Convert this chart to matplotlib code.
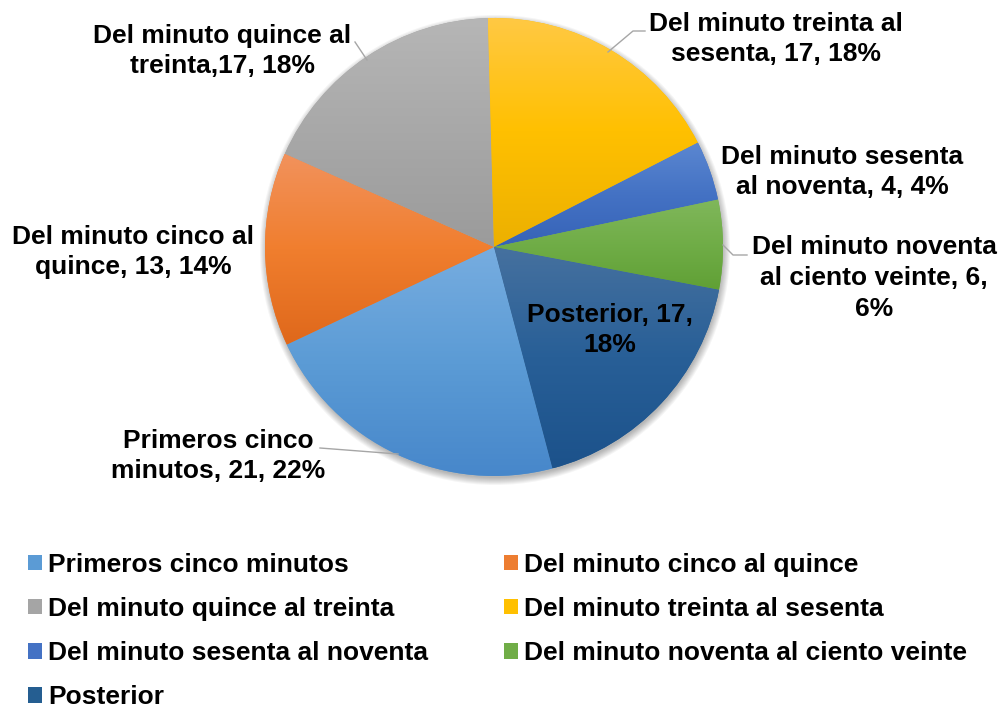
"""Pie chart: minute of the event, with Excel-style gradient slices."""

import matplotlib.pyplot as plt
import numpy as np
from matplotlib.colors import LinearSegmentedColormap
from matplotlib.patches import Circle, Patch

plt.rcParams["font.family"] = ["Liberation Sans", "DejaVu Sans"]
plt.rcParams["font.weight"] = "bold"

# data
categories = [
    "Primeros cinco minutos",
    "Del minuto cinco al quince",
    "Del minuto quince al treinta",
    "Del minuto treinta al sesenta",
    "Del minuto sesenta al noventa",
    "Del minuto noventa al ciento veinte",
    "Posterior",
]
counts = [21, 13, 17, 17, 4, 6, 17]
percents = ["22%", "14%", "18%", "18%", "4%", "6%", "18%"]
slice_labels = [
    "Primeros cinco\nminutos, 21, 22%",
    "Del minuto cinco al\nquince, 13, 14%",
    "Del minuto quince al\ntreinta,17, 18%",
    "Del minuto treinta al\nsesenta, 17, 18%",
    "Del minuto sesenta\nal noventa, 4, 4%",
    "Del minuto noventa\nal ciento veinte, 6,\n6%",
    "Posterior, 17,\n18%",
]

# (top, middle, bottom) gradient stops per slice
base_colors = ["#5B9BD5", "#ED7D31", "#A5A5A5", "#FFC000", "#4472C4", "#70AD47", "#255E91"]
gradients = [
    ("#77ADE0", "#5B9BD5", "#4686CA"),
    ("#F2925C", "#F07E2E", "#DF681B"),
    ("#B6B6B6", "#A8A8A8", "#9B9B9B"),
    ("#FFC945", "#FFC000", "#ECB000"),
    ("#5B87D1", "#4472C4", "#3663B7"),
    ("#80B75B", "#70AD47", "#60A035"),
    ("#46719F", "#285F97", "#1C528B"),
]

W, H = 1001, 712
FS = 19


def py(y):
    """Pixel row (from top) to data y."""
    return H - y


fig = plt.figure(figsize=(W / 100, H / 100), dpi=100)
ax = fig.add_axes([0, 0, 1, 1])

cx, cy, r = 494, py(247), 229

# soft drop shadow
for k in range(8):
    ax.add_patch(Circle((cx + 1, cy - 3), r + 6 - k, color="black", alpha=0.04, lw=0, zorder=1))

wedges, _ = ax.pie(
    counts,
    colors=base_colors,
    startangle=-75.2,
    counterclock=False,
    center=(cx, cy),
    radius=r,
    wedgeprops=dict(linewidth=0, zorder=2),
)

for w, stops in zip(wedges, gradients):
    verts = w.get_path().vertices
    x0, x1 = verts[:, 0].min(), verts[:, 0].max()
    y0, y1 = verts[:, 1].min(), verts[:, 1].max()
    cmap = LinearSegmentedColormap.from_list("g", list(stops))
    grad = np.linspace(0, 1, 256).reshape(-1, 1)
    im = ax.imshow(grad, cmap=cmap, extent=[x0, x1, y0, y1], origin="upper",
                   aspect="auto", interpolation="bilinear", zorder=3)
    im.set_clip_path(w)

# slice labels (centre positions in pixels)
label_pos = [(218, 456), (133, 252), (222, 51), (776, 39), (842, 172), (874, 278), (610, 330)]
for text, (lx, ly) in zip(slice_labels, label_pos):
    ax.text(lx, py(ly), text, ha="center", va="center", multialignment="center",
            fontsize=FS, fontweight="bold", linespacing=1.35, zorder=6)

# leader lines
leaders = [
    [(320, 448), (398, 454)],
    [(355, 42), (367, 60)],
    [(645, 31), (633, 31), (608, 52)],
    [(747, 255), (733, 255), (723, 245)],
]
for pts in leaders:
    xs = [p[0] for p in pts]
    ys = [py(p[1]) for p in pts]
    ax.plot(xs, ys, color="#A6A6A6", lw=1.0, zorder=4)

ax.set_xlim(0, W)
ax.set_ylim(0, H)
ax.axis("off")

# legend, filled row-wise like the original (matplotlib fills columns)
order = [0, 2, 4, 6, 1, 3, 5]
handles = [Patch(facecolor=base_colors[i], edgecolor="none", label=categories[i]) for i in order]
fig.legend(
    handles=handles,
    loc="upper left",
    bbox_to_anchor=(28 / W, 1 - 553 / H),
    ncol=2,
    frameon=False,
    fontsize=FS,
    borderpad=0,
    borderaxespad=0,
    handlelength=0.53,
    handleheight=0.53,
    handletextpad=0.23,
    columnspacing=2.87,
    labelspacing=0.76,
    prop=dict(weight="bold", size=FS),
)

fig.savefig("out.png", dpi=100)
